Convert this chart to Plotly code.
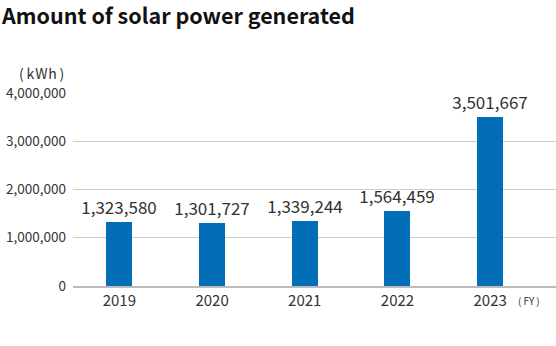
import plotly.graph_objects as go

years = ["2019", "2020", "2021", "2022", "2023"]
generated_kwh = [1323580, 1301727, 1339244, 1564459, 3501667]
y_ticks = [0, 1000000, 2000000, 3000000, 4000000]
y_tick_labels = ["0", "1,000,000", "2,000,000", "3,000,000", "4,000,000"]

FONT = "Noto Sans CJK JP"

fig = go.Figure(
    go.Bar(
        x=years,
        y=generated_kwh,
        width=0.28,
        marker=dict(color="#036EB8", line=dict(width=0)),
        text=[f"{v:,}" for v in generated_kwh],
        textposition="outside",
        constraintext="none",
        textfont=dict(family=FONT, size=17, color="#333333"),
        cliponaxis=False,
    )
)

fig.update_layout(
    width=556,
    height=346,
    margin=dict(l=73, r=0, t=93, b=60),
    paper_bgcolor="white",
    plot_bgcolor="white",
    showlegend=False,
    font=dict(family=FONT, color="#333333"),
    bargap=0,
)

fig.update_xaxes(
    type="category",
    range=[-0.5, 4.71],
    showgrid=False,
    showline=True,
    linecolor="#BBBBBB",
    linewidth=2,
    ticks="",
    tickfont=dict(family=FONT, size=15, color="#333333"),
)

fig.update_yaxes(
    range=[0, 4000000],
    tickvals=y_ticks,
    ticktext=y_tick_labels,
    showgrid=True,
    gridcolor="#CCCCCC",
    gridwidth=1,
    zeroline=False,
    ticks="",
    ticklabelstandoff=6,
    tickfont=dict(family=FONT, size=13.5, color="#333333"),
)

fig.add_annotation(
    text="<b>Amount of solar power generated</b>",
    xref="paper", yref="paper",
    x=-73 / 483, y=1 + (93 - 15) / 193,
    xanchor="left", yanchor="middle",
    showarrow=False,
    borderpad=0,
    font=dict(family=FONT, size=21.5, color="#111111"),
)
fig.add_annotation(
    text="(\u2009k\u200aW\u200ah\u2009)",
    xref="paper", yref="paper",
    x=-7 / 483, y=1 + 20 / 193,
    xanchor="right", yanchor="middle",
    showarrow=False,
    font=dict(family=FONT, size=14, color="#333333"),
)
fig.add_annotation(
    text="(\u2009FY\u2009)",
    xref="paper", yref="paper",
    x=1 - 14 / 483, y=-14 / 193,
    xanchor="right", yanchor="middle",
    showarrow=False,
    font=dict(family=FONT, size=10, color="#333333"),
)

fig.write_html("out.html")
